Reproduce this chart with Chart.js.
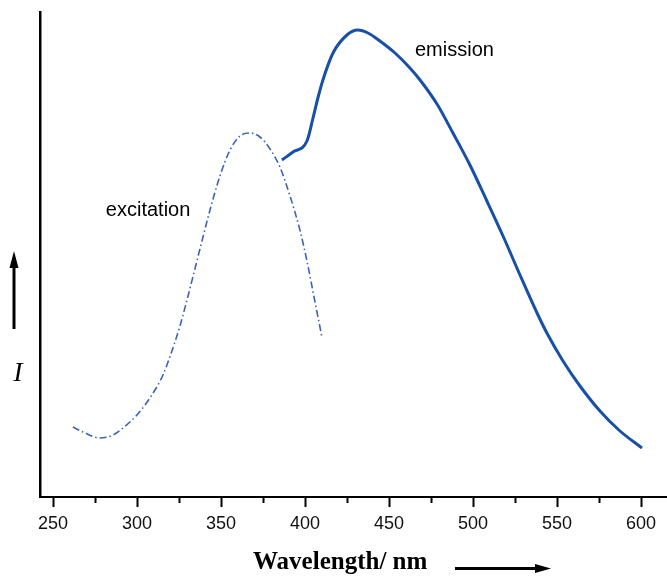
<!DOCTYPE html>
<html>
<head>
<meta charset="utf-8">
<script src="https://cdn.jsdelivr.net/npm/chart.js@4.4.1/dist/chart.umd.min.js"></script>
<style>
html,body{margin:0;padding:0;background:#fff;}
#wrap{width:667px;height:577px;position:relative;}
</style>
</head>
<body>
<div id="wrap"><canvas id="c" width="667" height="577"></canvas></div>
<script>
// Data (wavelength nm, relative intensity)
const excitationX = [261.9,267.9,278,285.7,291.7,300,307.7,315.5,320.8,325.6,329.8,333.3,337.5,343.5,349.4,355.4,361.3,367.3,373.2,379.2,385.1,391.1,397,401.2,405.4,410.1];
const excitationY = [70,65,59,62,69,82,99,122,146,171,197,220,248,287,321,347,361,364,360,348,330,301,267,236,200,160];
const emissionX = [386.3,392.9,401.2,404.8,407.7,410.7,416.7,425,431.5,437.5,444.6,453.6,462.5,468.5,478.6,488.1,498.2,508.3,517.9,528,538.7,544,553.6,563.7,575.6,587.5,600.6];
const emissionY = [337,345,356,379,399,417,444,462,467,464,456,444,429,417,393,364,332,296,261,222,182,164,136,111,86,66,49];
const xTickValues = [250,275,300,325,350,375,400,425,450,475,500,525,550,575,600];
const xMajorTicks = [250,300,350,400,450,500,550,600];
const labels = {excitation:'excitation', emission:'emission', xTitle:'Wavelength/ nm', yTitle:'I'};

const toPts = (xs, ys) => xs.map((x, i) => ({x: x, y: ys[i]}));

const decor = {
  id: 'decor',
  afterDraw(chart) {
    const ctx = chart.ctx;
    const xs = chart.scales.x, ys = chart.scales.y;
    const base = chart.chartArea.bottom;
    ctx.save();
    // tick marks
    ctx.strokeStyle = '#000';
    ctx.lineWidth = 2;
    xTickValues.forEach(v => {
      const px = Math.round(xs.getPixelForValue(v)) + 0.5;
      const len = xMajorTicks.includes(v) ? 10 : 6;
      ctx.beginPath();
      ctx.moveTo(px, base);
      ctx.lineTo(px, base + len);
      ctx.stroke();
    });
    // annotations
    ctx.fillStyle = '#000';
    ctx.textBaseline = 'middle';
    ctx.textAlign = 'left';
    ctx.font = '20px "Liberation Sans", Arial, sans-serif';
    ctx.fillText(labels.excitation, xs.getPixelForValue(281.5), ys.getPixelForValue(287));
    ctx.fillText(labels.emission, xs.getPixelForValue(465.5), ys.getPixelForValue(447));
    // x title
    ctx.font = 'bold 25px "Liberation Serif", "Times New Roman", serif';
    ctx.fillText(labels.xTitle, 253, 563);
    // x arrow
    ctx.lineWidth = 3;
    ctx.beginPath(); ctx.moveTo(455, 568.5); ctx.lineTo(538, 568.5); ctx.stroke();
    ctx.beginPath(); ctx.moveTo(551, 568.5); ctx.lineTo(535, 564); ctx.lineTo(535, 573); ctx.closePath(); ctx.fill();
    // y title
    ctx.font = 'italic 27px "Liberation Serif", "Times New Roman", serif';
    ctx.textAlign = 'center';
    ctx.fillText(labels.yTitle, 18, 374);
    // y arrow
    ctx.beginPath(); ctx.moveTo(14, 329); ctx.lineTo(14, 264); ctx.stroke();
    ctx.beginPath(); ctx.moveTo(14, 251); ctx.lineTo(9.5, 268); ctx.lineTo(18.5, 268); ctx.closePath(); ctx.fill();
    ctx.restore();
  }
};

new Chart(document.getElementById('c'), {
  type: 'line',
  data: {
    datasets: [
      {
        label: 'excitation',
        data: toPts(excitationX, excitationY),
        borderColor: '#3a64b6',
        borderWidth: 1.6,
        borderDash: [7, 3, 1.5, 3],
        pointRadius: 0,
        cubicInterpolationMode: 'monotone',
        fill: false
      },
      {
        label: 'emission',
        data: toPts(emissionX, emissionY),
        borderColor: '#1750a6',
        borderWidth: 3,
        pointRadius: 0,
        cubicInterpolationMode: 'monotone',
        fill: false
      }
    ]
  },
  options: {
    responsive: false,
    animation: false,
    layout: {padding: {top: 12, right: 0, left: 0, bottom: 0}},
    plugins: {legend: {display: false}, tooltip: {enabled: false}},
    scales: {
      x: {
        type: 'linear',
        min: 242.3,
        max: 615.5,
        afterFit(s) { s.height = 80; s.paddingLeft = 0; s.paddingRight = 0; },
        afterBuildTicks(s) { s.ticks = xMajorTicks.map(v => ({value: v})); },
        grid: {display: false, drawTicks: false},
        border: {display: true, color: '#000', width: 2},
        ticks: {
          color: '#111',
          font: {family: '"Liberation Sans", Arial, sans-serif', size: 18},
          padding: 16,
          maxRotation: 0,
          autoSkip: false
        }
      },
      y: {
        type: 'linear',
        min: 0,
        max: 485,
        afterFit(s) { s.width = 40; },
        grid: {display: false, drawTicks: false},
        border: {display: true, color: '#000', width: 2.5},
        ticks: {display: false}
      }
    }
  },
  plugins: [decor]
});
</script>
</body>
</html>
